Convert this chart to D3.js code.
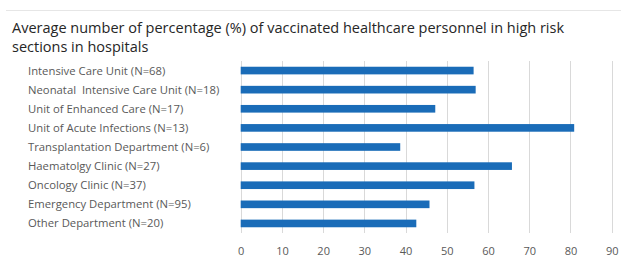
<!DOCTYPE html>
<html>
<head>
<meta charset="utf-8">
<script src="https://cdn.jsdelivr.net/npm/d3@7"></script>
<style>
  body { margin: 0; background: #fff; }
  text { font-family: "Open Sans", sans-serif; white-space: pre; }
</style>
</head>
<body>
<svg id="chart" width="621" height="262"></svg>
<script>
// data
const sections = [
  "Intensive Care Unit (N=68)",
  "Neonatal  Intensive Care Unit (N=18)",
  "Unit of Enhanced Care (N=17)",
  "Unit of Acute Infections (N=13)",
  "Transplantation Department (N=6)",
  "Haematolgy Clinic (N=27)",
  "Oncology Clinic (N=37)",
  "Emergency Department (N=95)",
  "Other Department (N=20)"
];
const percents = [56.5, 57.0, 47.2, 80.9, 38.7, 65.8, 56.7, 45.8, 42.6];
const ticks = [0, 10, 20, 30, 40, 50, 60, 70, 80, 90];
const titleLines = [
  "Average number of percentage (%) of vaccinated healthcare personnel in high risk",
  "sections in hospitals"
];

const svg = d3.select("#chart");
const plot = { left: 240.7, right: 611.7, top: 61, bottom: 233 };

// faint rule at the top
svg.append("line")
  .attr("x1", 6).attr("x2", 621)
  .attr("y1", 10.5).attr("y2", 10.5)
  .style("stroke", "#e6e6e6");

// title
svg.selectAll(".title").data(titleLines)
  .enter()
  .append("text")
  .attr("class", "title")
  .attr("x", 12)
  .attr("y", (d, i) => 33 + i * 19)
  .style("font-size", "14.5px")
  .style("fill", "#262626")
  .text(d => d);

const x = d3.scaleLinear().domain([0, 90]).range([plot.left, plot.right]);
const y = d3.scaleBand().domain(sections).range([plot.top, plot.bottom]).paddingInner(0.6).paddingOuter(0.3);

// gridlines
svg.selectAll(".grid").data(ticks)
  .enter()
  .append("line")
  .attr("class", "grid")
  .attr("x1", d => Math.round(x(d)) + 0.5)
  .attr("x2", d => Math.round(x(d)) + 0.5)
  .attr("y1", plot.top)
  .attr("y2", plot.bottom)
  .style("stroke", "#d9d9d9")
  .style("stroke-width", 1);

// bars
svg.selectAll(".bar").data(percents)
  .enter()
  .append("rect")
  .attr("class", "bar")
  .attr("x", x(0))
  .attr("y", (d, i) => y(sections[i]))
  .attr("width", d => x(d) - x(0))
  .attr("height", y.bandwidth())
  .style("fill", "#1a6cb8");

// x tick labels
const xAxis = svg.append("g")
  .attr("transform", "translate(0," + (plot.bottom + 14) + ")")
  .call(d3.axisBottom(x).tickValues(ticks).tickSize(0).tickPadding(0));
xAxis.select(".domain").remove();
xAxis.selectAll("text")
  .style("font-family", "'Open Sans', sans-serif")
  .style("font-size", "11px")
  .style("fill", "#595959");

// category labels, left aligned
svg.selectAll(".cat").data(sections)
  .enter()
  .append("text")
  .attr("class", "cat")
  .attr("x", 28)
  .attr("y", d => y(d) + y.bandwidth() / 2)
  .attr("dy", "0.35em")
  .style("font-size", "11.3px")
  .style("fill", "#595959")
  .text(d => d);
</script>
</body>
</html>
